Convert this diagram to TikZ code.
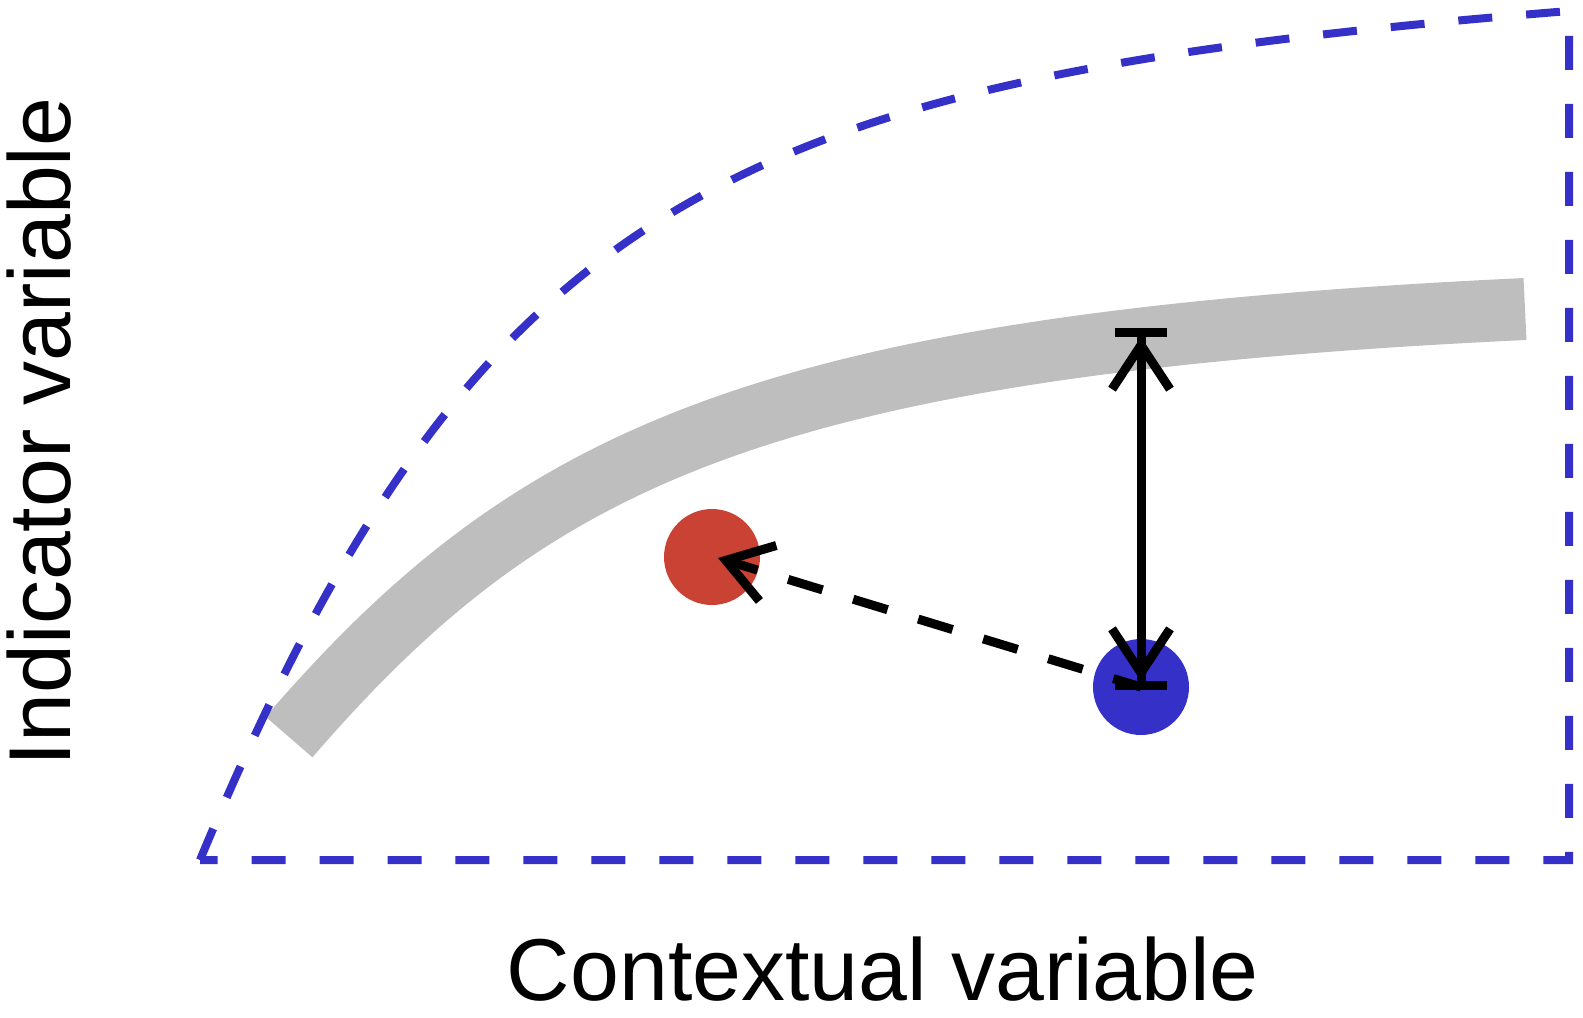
\documentclass[tikz,border=0pt]{standalone}
\usepackage{fontspec}
\setmainfont{Liberation Sans}
\usetikzlibrary{arrows.meta}
\definecolor{rblue}{RGB}{53,48,200}
\definecolor{rred}{RGB}{201,66,51}
\definecolor{rgrey}{RGB}{190,190,190}
\begin{document}
\begin{tikzpicture}[x=0.02cm,y=-0.02cm,
  outline/.style={draw=rblue, line width=0.16cm, dash pattern=on 0.68cm off 0.68cm, line cap=butt, line join=miter},
  band/.style={draw=rgrey, line width=1.24cm, line cap=butt},
  dot/.style={circle, inner sep=0pt, minimum size=1.92cm},
  solidarrow/.style={draw=black, line width=0.18cm, line cap=butt,
     arrows={{Bar[width=1.04cm, sep=0pt]Straight Barb[sharp, length=0.88cm, width=1.16cm, sep=0pt]}-{Straight Barb[sharp, length=0.88cm, width=1.16cm, sep=0pt]Bar[width=1.04cm, sep=0pt]}}},
  dasharrow/.style={draw=black, line width=0.18cm, line cap=butt, dash pattern=on 0.72cm off 0.64cm, dash phase=0.14cm,
     arrows={-{Straight Barb[sharp, length=0.88cm, width=1.16cm]}}},
  lbl/.style={inner sep=0pt, font=\fontsize{50pt}{60pt}\selectfont}]
\useasboundingbox (0,0) rectangle (1583,1018);
% grey reference band
\draw[band] (289,737) .. controls (531,457) and (760,345) .. (1525,309);
% dashed blue envelope
\draw[outline] (200,860) .. controls (480,188) and (740,78) .. (1569,11) -- (1569,860) -- cycle;
% dots
\node[dot, fill=rred] (red) at (712,557) {};
\node[dot, fill=rblue] (blue) at (1141,687) {};
% arrows
\coordinate (vtop) at (1141,328);
\coordinate (vbot) at (1141,690);
\draw[solidarrow] (vbot) -- (vtop);
\coordinate (rtip) at (718,558);
\draw[dasharrow] (blue.center) -- (rtip);
% labels
\node[lbl, anchor=base] (xl) at (883,1000) {Contextual variable};
\node[lbl, rotate=90, anchor=base] (yl) at (71,432) {Indicator variable};
\end{tikzpicture}
\end{document}
